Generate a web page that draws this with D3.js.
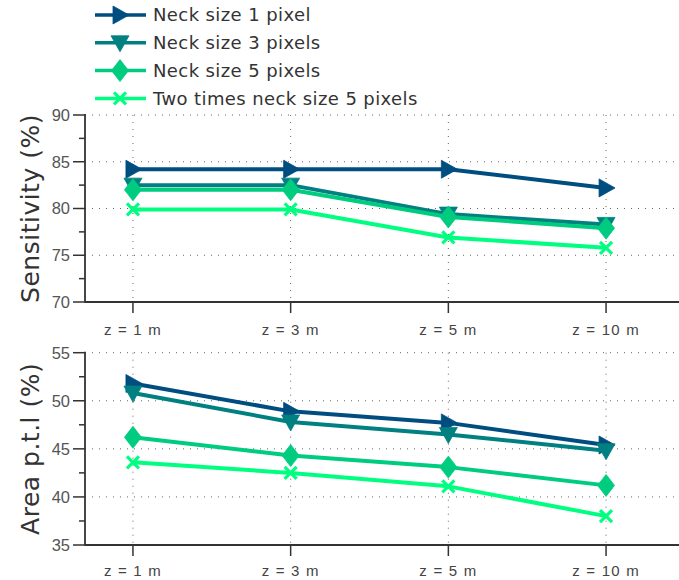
<!DOCTYPE html>
<html><head><meta charset="utf-8">
<script src="https://cdn.jsdelivr.net/npm/d3@7"></script>
<style>body{margin:0;background:#fff}svg{display:block}</style>
</head><body>
<script>
const categories = ["z = 1 m", "z = 3 m", "z = 5 m", "z = 10 m"];
const seriesNames = ["Neck size 1 pixel", "Neck size 3 pixels", "Neck size 5 pixels", "Two times neck size 5 pixels"];
const seriesColors = ["#004d80", "#008080", "#00cc80", "#00ff80"];
const seriesMarkers = ["triRight", "triDown", "diamond", "cross"];
const sensitivity = [
  [84.2, 84.2, 84.2, 82.2],
  [82.5, 82.5, 79.4, 78.3],
  [82.0, 82.0, 79.1, 77.9],
  [79.9, 79.9, 76.9, 75.8]
];
const areaPtl = [
  [51.8, 48.9, 47.7, 45.4],
  [50.8, 47.8, 46.5, 44.8],
  [46.2, 44.3, 43.1, 41.2],
  [43.6, 42.5, 41.1, 38.0]
];
const sensTicks = [70, 75, 80, 85, 90];
const areaTicks = [35, 40, 45, 50, 55];

const W = 679, H = 580;
const svg = d3.select("body").append("svg").attr("width", W).attr("height", H);
const titleFont = "DejaVu Sans";
const tickFont = "Liberation Sans";

const x = d3.scalePoint().domain(categories).range([85, 654]).padding(0.304);

function markerPath(type) {
  const g = d3.path();
  if (type === "triRight") { g.moveTo(-7, -9); g.lineTo(9, 0); g.lineTo(-7, 9); g.closePath(); }
  else if (type === "triDown") { g.moveTo(-9, -7); g.lineTo(9, -7); g.lineTo(0, 9); g.closePath(); }
  else if (type === "diamond") { g.moveTo(0, -11); g.lineTo(8.5, 0); g.lineTo(0, 11); g.lineTo(-8.5, 0); g.closePath(); }
  else { g.moveTo(-6, -6); g.lineTo(6, 6); g.moveTo(6, -6); g.lineTo(-6, 6); }
  return g.toString();
}
function drawMarker(sel, type, color) {
  if (type === "cross") sel.append("path").attr("d", markerPath(type)).attr("fill", "none").attr("stroke", color).attr("stroke-width", 3.2);
  else sel.append("path").attr("d", markerPath(type)).attr("fill", color).attr("stroke", color).attr("stroke-width", 0.8);
}

function panel(data, ticks, top, bottom, title, labelOffset) {
  const y = d3.scaleLinear().domain([ticks[0], ticks[ticks.length - 1]]).range([bottom, top]);
  const g = svg.append("g");
  g.selectAll(".hg").data(ticks.slice(1)).join("line")
    .attr("x1", 85).attr("x2", W).attr("y1", d => y(d)).attr("y2", d => y(d))
    .attr("stroke", "#666").attr("stroke-width", 1).attr("stroke-dasharray", "1,6");
  g.selectAll(".vg").data(categories).join("line")
    .attr("x1", d => x(d)).attr("x2", d => x(d)).attr("y1", top).attr("y2", bottom)
    .attr("stroke", "#666").attr("stroke-width", 1).attr("stroke-dasharray", "1,6");
  const minor = d3.range(ticks[0], ticks[ticks.length - 1] + 0.01, 2.5);
  g.selectAll(".mt").data(minor).join("line")
    .attr("x1", d => ticks.includes(d) ? 73 : 79).attr("x2", 85)
    .attr("y1", d => y(d)).attr("y2", d => y(d)).attr("stroke", "#333").attr("stroke-width", 1.5);
  g.append("line").attr("x1", 85).attr("x2", 85).attr("y1", top - 1).attr("y2", bottom + 0.75).attr("stroke", "#333").attr("stroke-width", 1.8);
  g.selectAll(".yl").data(ticks).join("text")
    .attr("x", 70).attr("y", d => y(d)).attr("dy", "0.36em").attr("text-anchor", "end")
    .attr("font-family", tickFont).attr("font-size", 16.5).attr("fill", "#555").text(d => d);
  g.append("line").attr("x1", 85).attr("x2", W).attr("y1", bottom).attr("y2", bottom).attr("stroke", "#333").attr("stroke-width", 1.8);
  g.selectAll(".xt").data(categories).join("line")
    .attr("x1", d => x(d)).attr("x2", d => x(d)).attr("y1", bottom).attr("y2", bottom + 11)
    .attr("stroke", "#333").attr("stroke-width", 1.5);
  g.selectAll(".xl").data(categories).join("text")
    .attr("x", d => x(d)).attr("y", bottom + labelOffset).attr("dy", "0.36em").attr("text-anchor", "middle")
    .attr("font-family", tickFont).attr("font-size", 15).attr("letter-spacing", 1.2).attr("fill", "#444").text(d => d);
  g.append("text").attr("transform", `translate(30,${(top + bottom) / 2}) rotate(-90)`)
    .attr("text-anchor", "middle").attr("dy", "0.36em")
    .attr("font-family", titleFont).attr("font-size", 25).attr("letter-spacing", 0.5).attr("fill", "#333").text(title);
  const line = d3.line().x((d, i) => x(categories[i])).y(d => y(d));
  data.forEach((vals, s) => {
    g.append("path").attr("d", line(vals)).attr("fill", "none")
      .attr("stroke", seriesColors[s]).attr("stroke-width", 4).attr("stroke-linejoin", "round");
    vals.forEach((v, i) => {
      const m = g.append("g").attr("transform", `translate(${x(categories[i])},${y(v)})`);
      drawMarker(m, seriesMarkers[s], seriesColors[s]);
    });
  });
}

panel(sensitivity, sensTicks, 115, 302, "Sensitivity (%)", 28);
panel(areaPtl, areaTicks, 352.7, 545, "Area p.t.l (%)", 25.5);

const leg = svg.append("g");
seriesNames.forEach((name, s) => {
  const yy = 15 + s * 27.8;
  leg.append("line").attr("x1", 95).attr("x2", 146).attr("y1", yy).attr("y2", yy)
    .attr("stroke", seriesColors[s]).attr("stroke-width", 3.5);
  const m = leg.append("g").attr("transform", `translate(120,${yy})`);
  drawMarker(m, seriesMarkers[s], seriesColors[s]);
  leg.append("text").attr("x", 153).attr("y", yy).attr("dy", "0.36em")
    .attr("font-family", titleFont).attr("font-size", 18).attr("letter-spacing", 0.4).attr("fill", "#333").text(name);
});
</script>
</body></html>
